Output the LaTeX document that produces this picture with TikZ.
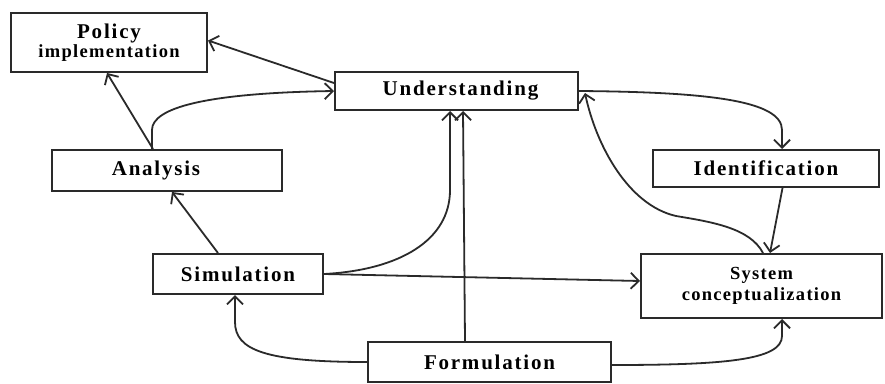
\documentclass[tikz,border=0pt]{standalone}
\usepackage{fontspec}
\setmainfont{Liberation Serif}
\newfontfamily\bigf[LetterSpace=8.5]{Liberation Serif}
\newfontfamily\smallf[LetterSpace=7]{Liberation Serif}
\usetikzlibrary{arrows.meta}
\definecolor{ink}{HTML}{2A2A2A}
\begin{document}
\begin{tikzpicture}[x=1pt,y=-1pt,
  box/.style={draw=ink,line width=2pt,fill=white,inner sep=0pt,align=center,
    font=\bigf\bfseries\fontsize{21}{22}\selectfont},
  conn/.style={draw=ink,line width=1.8pt,-{Straight Barb[length=8pt,width=16pt,line width=1.8pt]}}]
\useasboundingbox (0,0) rectangle (885,383);
\fill[white] (0,0) rectangle (885,383);
% nodes
\node[box,minimum width=196pt,minimum height=59pt] (pol) at (109,42.5)
  {Policy\\[-3pt]{\smallf\bfseries\fontsize{18.5}{20}\selectfont implementation}};
\node[box,minimum width=243pt,minimum height=38pt] (und) at (456.5,91) {Understanding\hspace*{-8pt}};
\node[box,minimum width=230pt,minimum height=41pt] (ana) at (167,170.5) {Analysis\hspace*{22pt}};
\node[box,minimum width=170pt,minimum height=40pt] (sim) at (238,274) {Simulation};
\node[box,minimum width=226pt,minimum height=37pt] (ide) at (766,168.5) {Identification};
\node[box,minimum width=241pt,minimum height=64pt,font=\smallf\bfseries\fontsize{18.5}{21}\selectfont] (sys) at (761.5,286)
  {System\\conceptualization};
\node[box,minimum width=243pt,minimum height=40pt] (form) at (489.5,362) {Formulation};
% connectors
\draw[conn] ([yshift=8pt]und.west) -- ([yshift=2pt]pol.east);
\draw[conn] ([xshift=-15pt]ana.north) -- (152,130) .. controls (152,108) and (205,93) .. (und.west);
\draw[conn] ([xshift=-14pt]ana.north) -- ([xshift=-2pt]pol.south);
\draw[conn] ([xshift=-20pt]sim.north) -- ([xshift=5pt]ana.south);
\draw[conn] (form.west) .. controls (265,362) and (235,350) .. (235,322) -- ([xshift=-3pt]sim.south);
\draw[conn] (sim.east) .. controls (400,270) and (450,240) .. (450,190) -- ([xshift=-6.5pt]und.south);
\draw[conn] (sim.east) -- ([yshift=5pt]sys.west);
\draw[conn] ([xshift=-24.5pt]form.north) -- ([xshift=6.5pt]und.south);
\draw[conn] ([yshift=-3pt]form.east) .. controls (725,365) and (782,360) .. (782,336) -- ([xshift=20.5pt]sys.south);
\draw[conn] (und.east) .. controls (705,92) and (782,100) .. (782,130) -- ([xshift=16pt]ide.north);
\draw[conn] ([xshift=16.5pt]ide.south) -- ([xshift=8.5pt]sys.north);
\draw[conn] ([xshift=1.5pt]sys.north) .. controls (750,228) and (712,222) .. (676,216)
  .. controls (628,205) and (596,145) .. ([xshift=6pt,yshift=-2pt]und.east);
\end{tikzpicture}
\end{document}
